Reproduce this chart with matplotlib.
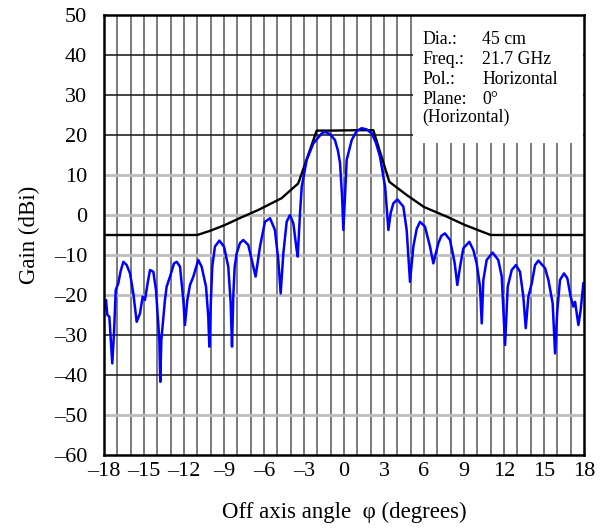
import numpy as np
import matplotlib
matplotlib.use("Agg")
import matplotlib.pyplot as plt
from matplotlib.patches import Rectangle

plt.rcParams['font.family'] = ['Liberation Serif', 'DejaVu Serif']

# mask (envelope) line
mask_deg = [-18, -11, -10, -8.93, -7.7, -6.43, -4.68, -3.43, -2.05, -0.95,
            1.0, 2.2, 3.4, 4.7, 6.0, 7.7, 9.07, 11.0, 18]
mask_db = [-5, -5, -3.9, -2.5, -0.6, 1.25, 4.2, 7.9, 21.1, 21.1,
           21.2, 21.2, 8.3, 5.0, 2.0, -0.4, -2.5, -5, -5]

# measured pattern (blue)
meas_deg = [-17.95, -17.85, -17.75, -17.6, -17.38, -17.25, -17.12, -16.93, -16.75, -16.55,
            -16.3, -16.05, -15.8, -15.55, -15.3, -15.1, -14.93, -14.73, -14.55, -14.3,
            -14.1, -13.85, -13.78, -13.7, -13.43, -13.3, -13.05, -12.75, -12.55, -12.3,
            -12.05, -11.93, -11.75, -11.55, -11.3, -10.93, -10.68, -10.35, -10.18, -10.1,
            -9.98, -9.88, -9.68, -9.35, -9.0, -8.68, -8.5, -8.4, -8.3, -8.2,
            -8.05, -7.8, -7.55, -7.18, -6.8, -6.63, -6.3, -5.93, -5.55, -5.18,
            -4.93, -4.75, -4.55, -4.3, -4.05, -3.8, -3.55, -3.47, -3.3, -3.17,
            -2.8, -2.3, -1.67, -1.43, -1.05, -0.68, -0.45, -0.3, -0.15, -0.05,
            0.08, 0.2, 0.58, 0.95, 1.33, 1.7, 2.08, 2.4, 2.7, 3.08,
            3.33, 3.5, 3.7, 4.0, 4.45, 4.7, 4.95, 5.2, 5.45, 5.7,
            6.07, 6.45, 6.7, 7.07, 7.3, 7.57, 7.95, 8.3, 8.5, 8.7,
            8.95, 9.4, 9.7, 9.95, 10.2, 10.33, 10.45, 10.7, 11.15, 11.57,
            11.83, 12.08, 12.28, 12.58, 12.9, 13.2, 13.45, 13.63, 13.83, 14.08,
            14.33, 14.58, 15.08, 15.33, 15.65, 15.83, 16.0, 16.2, 16.5, 16.75,
            17.0, 17.2, 17.33, 17.58, 17.75, 17.95]
meas_db = [-23.3, -21.25, -25.0, -25.4, -37.1, -29.6, -18.75, -17.1, -14.0, -11.7,
           -12.5, -14.6, -19.6, -26.7, -24.6, -20.4, -21.25, -17.1, -13.75, -14.2,
           -18.75, -31.25, -41.7, -31.25, -21.25, -17.9, -15.4, -12.1, -11.7, -12.9,
           -21.25, -27.5, -21.25, -17.5, -15.4, -11.25, -12.9, -17.9, -25.4, -32.9,
           -21.25, -12.9, -7.9, -6.4, -7.9, -12.9, -22.0, -32.9, -20.0, -13.0,
           -9.6, -7.0, -6.25, -7.5, -12.9, -15.4, -7.9, -1.7, -0.8, -3.75,
           -11.25, -19.6, -9.6, -1.7, 0.0, -2.1, -8.75, -10.4, 0.4, 7.1,
           13.75, 17.9, 20.4, 20.8, 20.2, 18.75, 16.0, 13.0, 5.0, -3.75,
           5.0, 13.75, 18.75, 21.0, 21.7, 21.4, 20.4, 18.0, 14.6, 7.1,
           -3.75, 0.5, 2.9, 3.9, 2.1, -3.75, -16.7, -7.9, -3.5, -1.7,
           -2.9, -7.9, -12.1, -7.1, -5.2, -4.6, -6.25, -12.0, -17.5, -13.0,
           -8.3, -6.7, -8.75, -12.1, -17.9, -27.1, -16.25, -11.25, -9.4, -11.25,
           -15.4, -32.5, -17.9, -13.75, -12.5, -14.2, -20.4, -28.3, -20.4, -17.1,
           -12.5, -11.4, -13.3, -16.25, -22.1, -34.6, -23.75, -16.25, -14.6, -15.8,
           -20.4, -22.9, -21.7, -27.5, -23.75, -17.1]

x_ticks = [-18, -15, -12, -9, -6, -3, 0, 3, 6, 9, 12, 15, 18]
y_ticks = [-60, -50, -40, -30, -20, -10, 0, 10, 20, 30, 40, 50]
info_keys = ["Dia.:", "Freq.:", "Pol.:", "Plane:", "(Horizontal)"]
info_vals = ["45 cm", "21.7 GHz", "Horizontal", "0°", ""]

fig = plt.figure(figsize=(6.05, 5.30), dpi=100)
ax = fig.add_axes([104 / 605, 75 / 530, 480 / 605, 440 / 530])

# grid: vertical every degree, horizontal every 10 dB (some dark, some light)
for d in range(-17, 18):
    ax.axvline(d, color='#7a7a7a', lw=1.4, zorder=1)
dark = [40, 30, 20, -30, -40]
for v in y_ticks[1:-1]:
    if v in dark:
        ax.axhline(v, color='#222222', lw=1.2, zorder=1)
    else:
        ax.axhline(v, color='#bdbdbd', lw=2.0, zorder=1)

# info box
ax.add_patch(Rectangle((5.15, 18.0), 12.75, 31.7, facecolor='white', edgecolor='none', zorder=2))
ys = [44, 38.8, 34, 29, 24.3]
for k, v, yy in zip(info_keys, info_vals, ys):
    ax.text(5.9, yy, k, fontsize=12.8, va='center', ha='left', zorder=3)
    if v:
        ax.text(10.35, yy, v, fontsize=12.8, va='center', ha='left', zorder=3)

ax.plot(mask_deg, mask_db, color='black', lw=1.7, zorder=4)
ax.plot(meas_deg, meas_db, color='#0000ff', lw=1.8, zorder=5, solid_joinstyle='round')

ax.set_xlim(-18, 18)
ax.set_ylim(-60, 50)
ax.set_xticks(x_ticks)
ax.set_xticklabels([("–" + str(-t)) if t < 0 else str(t) for t in x_ticks], fontsize=16)
ax.set_yticks(y_ticks)
ax.set_yticklabels([("–" + str(-t)) if t < 0 else str(t) for t in y_ticks], fontsize=16)
ax.tick_params(axis='y', length=0, pad=12)
ax.tick_params(axis='x', length=0, pad=5)
for s in ax.spines.values():
    s.set_linewidth(1.8)
    s.set_zorder(6)

ax.set_xlabel("Off axis angle  φ (degrees)", fontsize=16.5, labelpad=15)
ax.set_ylabel("Gain (dBi)", fontsize=16.5, labelpad=10)

fig.savefig("out.png", dpi=100)
